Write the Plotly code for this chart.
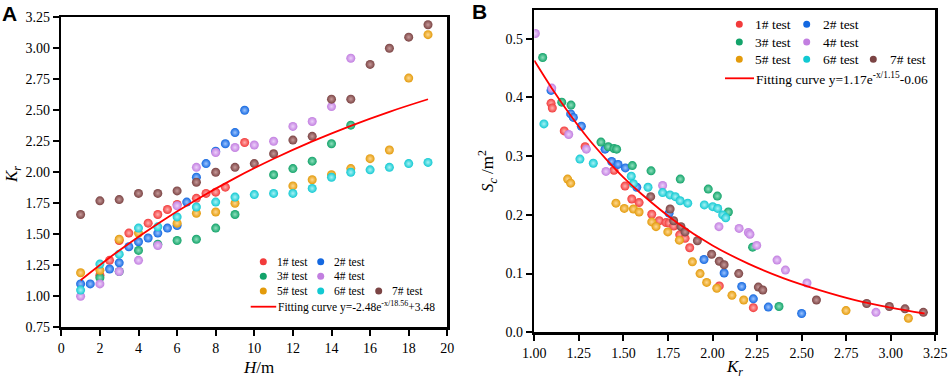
import plotly.graph_objects as go

W, H = 948, 381

SERIES = ["1# test", "2# test", "3# test", "4# test", "5# test", "6# test", "7# test"]
COLORS = ["#f23b3b", "#1468e0", "#13a36a", "#c27fe0", "#e39b0c", "#12c9d2", "#7b4444"]
LIGHT = ["#ffb0b0", "#9cc4ff", "#8fe0bd", "#ecd0fa", "#ffd890", "#a8f2f5", "#c79a9a"]

# ---------------- Panel A : K_r vs H ----------------
A1_H = [2, 2.5, 3, 3.5, 4.5, 5, 5.5, 6, 7, 7.5, 8, 8.5, 9.5]
A1_K = [1.17, 1.29, 1.45, 1.51, 1.59, 1.66, 1.70, 1.74, 1.79, 1.83, 1.84, 1.88, 2.24]
A2_H = [1, 1.5, 2.5, 3, 3.5, 4, 4.5, 5, 5.5, 6, 6.5, 7, 7.5, 8, 8.5, 9, 9.5]
A2_K = [1.10, 1.10, 1.22, 1.27, 1.40, 1.44, 1.47, 1.51, 1.55, 1.57, 1.76, 1.96, 2.07, 2.17, 2.23, 2.32, 2.50]
A3_H = [2, 3, 4, 5, 6, 7, 8, 9, 11, 12, 13, 14, 15]
A3_K = [1.15, 1.20, 1.37, 1.42, 1.45, 1.46, 1.55, 1.66, 1.98, 2.03, 2.09, 2.23, 2.38]
A4_H = [1, 2, 3, 4, 5, 6, 7, 8, 9, 10, 11, 12, 13, 14, 15]
A4_K = [1.00, 1.10, 1.20, 1.29, 1.41, 1.73, 2.04, 2.16, 2.20, 2.22, 2.25, 2.37, 2.41, 2.53, 2.92]
A5_H = [1, 2, 3, 4, 6, 7, 8, 9, 12, 13, 14, 15, 16, 17, 18, 19]
A5_K = [1.19, 1.21, 1.46, 1.51, 1.59, 1.67, 1.68, 1.75, 1.89, 1.94, 1.98, 2.03, 2.11, 2.18, 2.76, 3.11]
A6_H = [1, 2, 3, 4, 5, 6, 7, 8, 9, 10, 11, 12, 13, 14, 15, 16, 17, 18, 19]
A6_K = [1.05, 1.26, 1.34, 1.55, 1.56, 1.64, 1.72, 1.76, 1.80, 1.82, 1.83, 1.83, 1.87, 1.96, 2.00, 2.02, 2.04, 2.07, 2.08]
A7_H = [1, 2, 3, 4, 5, 6, 7, 8, 9, 10, 11, 12, 13, 14, 15, 16, 17, 18, 19]
A7_K = [1.66, 1.77, 1.78, 1.83, 1.83, 1.85, 1.92, 2.00, 2.04, 2.07, 2.15, 2.26, 2.29, 2.59, 2.59, 2.87, 3.00, 3.09, 3.19]
FITA_H = [1, 3, 5, 7, 9, 11, 13, 15, 17, 19]
FITA_K = [1.130, 1.370, 1.586, 1.779, 1.953, 2.109, 2.249, 2.375, 2.488, 2.589]

# ---------------- Panel B : S_c vs K_r ----------------
B1_K = [1.094, 1.101, 1.168, 1.285, 1.447, 1.509, 1.547, 1.588, 1.659, 1.701, 1.739, 1.756, 1.782, 1.816, 1.846, 1.872, 2.038, 2.229]
B1_S = [0.390, 0.382, 0.343, 0.316, 0.276, 0.249, 0.227, 0.221, 0.201, 0.190, 0.187, 0.186, 0.181, 0.166, 0.160, 0.144, 0.079, 0.042]
B2_K = [1.094, 1.204, 1.219, 1.264, 1.397, 1.434, 1.470, 1.511, 1.575, 1.756, 1.952, 2.065, 2.164, 2.229, 2.313, 2.500]
B2_S = [0.412, 0.372, 0.366, 0.351, 0.312, 0.291, 0.286, 0.280, 0.247, 0.203, 0.124, 0.101, 0.078, 0.057, 0.043, 0.032]
B3_K = [1.047, 1.154, 1.206, 1.374, 1.415, 1.447, 1.462, 1.550, 1.655, 1.819, 1.976, 2.027, 2.089, 2.225, 2.373]
B3_S = [0.468, 0.392, 0.387, 0.324, 0.316, 0.313, 0.312, 0.284, 0.275, 0.261, 0.244, 0.232, 0.205, 0.145, 0.044]
B4_K = [1.006, 1.098, 1.193, 1.292, 1.402, 1.720, 2.036, 2.149, 2.201, 2.210, 2.248, 2.362, 2.409, 2.530, 2.917]
B4_S = [0.509, 0.416, 0.337, 0.312, 0.274, 0.250, 0.180, 0.177, 0.170, 0.167, 0.148, 0.123, 0.106, 0.084, 0.034]
B5_K = [1.187, 1.204, 1.458, 1.505, 1.556, 1.588, 1.659, 1.683, 1.749, 1.814, 1.887, 1.930, 1.967, 2.024, 2.109, 2.175, 2.749, 3.099]
B5_S = [0.261, 0.254, 0.220, 0.211, 0.210, 0.205, 0.188, 0.180, 0.171, 0.157, 0.120, 0.100, 0.085, 0.075, 0.063, 0.055, 0.037, 0.024]
B6_K = [1.054, 1.256, 1.331, 1.544, 1.556, 1.638, 1.720, 1.761, 1.791, 1.818, 1.861, 1.954, 2.001, 2.029, 2.057, 2.074]
B6_S = [0.355, 0.295, 0.288, 0.266, 0.253, 0.247, 0.238, 0.234, 0.231, 0.224, 0.220, 0.217, 0.214, 0.211, 0.200, 0.195]
B7_K = [1.653, 1.762, 1.782, 1.823, 1.846, 1.915, 1.995, 2.038, 2.065, 2.147, 2.257, 2.282, 2.583, 2.865, 2.992, 3.080, 3.183]
B7_S = [0.231, 0.210, 0.190, 0.180, 0.171, 0.156, 0.133, 0.121, 0.115, 0.100, 0.077, 0.072, 0.055, 0.049, 0.044, 0.040, 0.034]
FITB_K = [1.0, 1.1, 1.2, 1.3, 1.4, 1.5, 1.6, 1.8, 2.0, 2.2, 2.4, 2.6, 2.8, 3.0, 3.19]
FITB_S = [0.463, 0.415, 0.371, 0.331, 0.296, 0.264, 0.236, 0.187, 0.148, 0.117, 0.092, 0.072, 0.055, 0.042, 0.032]

A_X = [A1_H, A2_H, A3_H, A4_H, A5_H, A6_H, A7_H]
A_Y = [A1_K, A2_K, A3_K, A4_K, A5_K, A6_K, A7_K]
B_X = [B1_K, B2_K, B3_K, B4_K, B5_K, B6_K, B7_K]
B_Y = [B1_S, B2_S, B3_S, B4_S, B5_S, B6_S, B7_S]

SERIF = "Times New Roman, Liberation Serif, serif"
SANS = "Arial, Liberation Sans, sans-serif"


def px(x):
    return x / W


def py(y):
    return 1 - y / H


fig = go.Figure()

for i in range(7):
    fig.add_trace(go.Scatter(
        x=A_X[i], y=A_Y[i], mode="markers", name=SERIES[i], showlegend=False,
        marker=dict(size=9, color=COLORS[i], line=dict(width=0),
                    gradient=dict(type="radial", color=LIGHT[i])),
        xaxis="x", yaxis="y"))
fig.add_trace(go.Scatter(
    x=FITA_H, y=FITA_K, mode="lines", name="Fitting curve", showlegend=False,
    line=dict(color="#ff0000", width=1.8, shape="spline"), xaxis="x", yaxis="y"))

for i in range(7):
    fig.add_trace(go.Scatter(
        x=B_X[i], y=B_Y[i], mode="markers", name=SERIES[i], showlegend=False,
        marker=dict(size=9, color=COLORS[i], line=dict(width=0),
                    gradient=dict(type="radial", color=LIGHT[i])),
        xaxis="x2", yaxis="y2"))
fig.add_trace(go.Scatter(
    x=FITB_K, y=FITB_S, mode="lines", name="Fitting curve", showlegend=False,
    line=dict(color="#ff0000", width=1.8, shape="spline"), xaxis="x2", yaxis="y2"))

axis_common = dict(showline=True, linecolor="black", linewidth=2.5, mirror=True,
                   ticks="outside", ticklen=6, tickwidth=2, tickcolor="black",
                   showgrid=False, zeroline=False,
                   tickfont=dict(family=SERIF, size=14, color="black"))

fig.update_layout(
    width=W, height=H, autosize=False, hovermode=False,
    margin=dict(l=0, r=0, t=0, b=0, pad=0, autoexpand=False),
    font=dict(family=SERIF, size=14, color="black"),
    paper_bgcolor="white", plot_bgcolor="white",
    xaxis=dict(domain=[px(61.3), px(447.3)], range=[0, 20], tickvals=list(range(0, 21, 2)),
               anchor="y", **axis_common),
    yaxis=dict(domain=[py(327.3), py(17.3)], range=[0.75, 3.25],
               tickvals=[0.75, 1.0, 1.25, 1.5, 1.75, 2.0, 2.25, 2.5, 2.75, 3.0, 3.25],
               tickformat=".2f", anchor="x", **axis_common),
    xaxis2=dict(domain=[px(534.3), px(935.3)], range=[1.0, 3.25],
                tickvals=[1.0, 1.25, 1.5, 1.75, 2.0, 2.25, 2.5, 2.75, 3.0, 3.25],
                tickformat=".2f", anchor="y2", **axis_common),
    yaxis2=dict(domain=[py(332.3), py(10)], range=[0, 0.549],
                tickvals=[0, 0.1, 0.2, 0.3, 0.4, 0.5], tickformat=".1f",
                anchor="x2", **axis_common),
)

ann = []
shapes = []


def text(x, y, t, size, **kw):
    d = dict(x=px(x), y=py(y), xref="paper", yref="paper", text=t, showarrow=False,
             xanchor="center", yanchor="middle",
             font=dict(family=kw.pop("family", SERIF), size=size, color="black"))
    d.update(kw)
    ann.append(d)


# panel labels
text(9, 13, "<b>A</b>", 21, family=SANS)
text(479, 12, "<b>B</b>", 21, family=SANS)
# axis titles
text(13, 175, "<i>K</i><sub><i>r</i></sub>", 17, textangle=-90)
text(258, 367, "<i>H</i>/m", 17)
text(487, 171, "<i>S</i><sub><i>c</i></sub> /m<sup>2</sup>", 17, textangle=-90)
text(734, 368, "<i>K</i><sub><i>r</i></sub>", 17)


def legend_block(rows_y, sym_x, txt_x, line_x, size, fit_label, r):
    layout = [(0, 0, 0), (1, 0, 1), (2, 1, 0), (3, 1, 1), (4, 2, 0), (5, 2, 1), (6, 2, 2)]
    for idx, row, col in layout:
        shapes.append(dict(type="circle", xref="paper", yref="paper",
                           xsizemode="pixel", ysizemode="pixel",
                           xanchor=px(sym_x[col]), yanchor=py(rows_y[row]),
                           x0=-r, x1=r, y0=-r, y1=r,
                           fillcolor=COLORS[idx], line=dict(width=0)))
        text(txt_x[col], rows_y[row], SERIES[idx], size, xanchor="left")
    shapes.append(dict(type="line", xref="paper", yref="paper",
                       x0=px(line_x[0]), x1=px(line_x[1]), y0=py(rows_y[3]), y1=py(rows_y[3]),
                       line=dict(color="#ff0000", width=1.8)))
    text(line_x[1], rows_y[3], fit_label, size, xanchor="left")


legend_block([261.7, 276.3, 291.0, 306.7], [263.3, 320.7, 378.7], [274.7, 332.3, 390.3],
             [250.7, 276.2], 11.5, "Fitting curve y=-2.48e<sup>-x/18.56</sup>+3.48", 3.5)
legend_block([24.3, 42.0, 59.3, 78.3], [739.3, 806.7, 873.3], [753.0, 820.7, 888.0],
             [725.0, 754.0], 13.5, "Fitting curve y=1.17e<sup>-x/1.15</sup>-0.06", 3.5)

fig.update_layout(annotations=ann, shapes=shapes)

# remove the browser's default 8px page margin so the figure sits at the window's corner
fig.write_html("out.html", config={"displayModeBar": False, "staticPlot": True},
               post_script="document.body.style.margin='0px';")
